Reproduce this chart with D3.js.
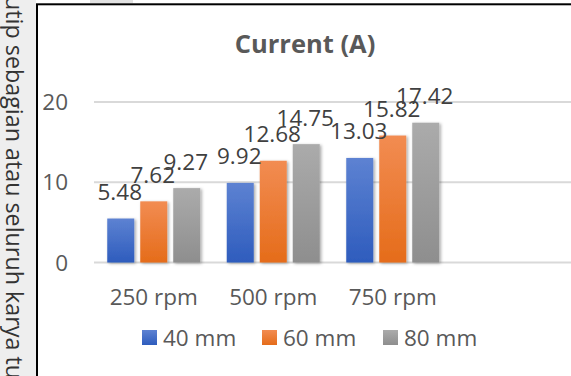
<!DOCTYPE html>
<html><head><meta charset="utf-8">
<script src="https://cdn.jsdelivr.net/npm/d3@7"></script>
<style>html,body{margin:0;padding:0;background:#fff;overflow:hidden}</style>
</head><body>
<svg id="c" width="571" height="376"></svg>
<script>
const categories = ["250 rpm", "500 rpm", "750 rpm"];
const seriesNames = ["40 mm", "60 mm", "80 mm"];
const values40 = [5.48, 9.92, 13.03];
const values60 = [7.62, 12.68, 15.82];
const values80 = [9.27, 14.75, 17.42];
const yTicks = [0, 10, 20];
const title = "Current (A)";
const sideText = "utip sebagian atau seluruh karya tu";

const seriesValues = [values40, values60, values80];
const gradients = [["#5d82d2", "#2e5cbd"], ["#f28c52", "#e56c1a"], ["#ababab", "#8e8e8e"]];

const svg = d3.select("#c");
const FONT = "'Open Sans', 'Noto Sans', sans-serif";
const defs = svg.append("defs");
gradients.forEach((g, i) => {
  const lg = defs.append("linearGradient").attr("id", "g" + i).attr("x1", 0).attr("y1", 0).attr("x2", 0).attr("y2", 1);
  lg.append("stop").attr("offset", "0%").attr("stop-color", g[0]);
  lg.append("stop").attr("offset", "100%").attr("stop-color", g[1]);
});
const f = defs.append("filter").attr("id", "sh").attr("x", "-30%").attr("y", "-10%").attr("width", "160%").attr("height", "130%");
f.append("feDropShadow").attr("dx", 1.5).attr("dy", 1).attr("stdDeviation", 1.5).attr("flood-color", "#000").attr("flood-opacity", 0.35);

// left margin strip with rotated text
svg.append("rect").attr("x", 0).attr("y", 0).attr("width", 36).attr("height", 376).attr("fill", "#eeeeee");
svg.append("rect").attr("x", 90).attr("y", 0).attr("width", 43).attr("height", 3).attr("fill", "#e2e2e2");
svg.append("text").attr("transform", "translate(6,-4) rotate(90)")
  .attr("font-family", FONT).attr("font-size", 23.3).attr("fill", "#333")
  .text(sideText);

// chart frame
svg.append("rect").attr("x", 37).attr("y", 4.3).attr("width", 600).attr("height", 400)
  .attr("fill", "#fff").attr("stroke", "#000").attr("stroke-width", 2);

const x = d3.scaleBand().domain(categories).range([94, 94 + 3 * 119.5]).paddingInner(0).paddingOuter(0);
const xs = d3.scaleBand().domain(seriesNames).range([13.25, 119.5 - 13.25]).paddingInner(6 / 33).paddingOuter(0);
const y = d3.scaleLinear().domain([0, 20]).range([262.5, 102]);

// gridlines
svg.append("g").selectAll("line").data(yTicks).join("line")
  .attr("x1", 94).attr("x2", 571).attr("y1", d => y(d)).attr("y2", d => y(d))
  .attr("stroke", "#d9d9d9").attr("stroke-width", 2);

// y axis labels
svg.append("g").selectAll("text").data(yTicks).join("text")
  .attr("x", 68).attr("y", d => y(d)).attr("dy", "0.36em").attr("text-anchor", "end")
  .attr("font-family", FONT).attr("font-size", 22.5).attr("fill", "#595959").text(d => d);

// bars
const groups = svg.append("g").selectAll("g").data(categories).join("g")
  .attr("transform", d => `translate(${x(d)},0)`);
groups.selectAll("rect").data((c, ci) => seriesNames.map((s, si) => ({ s, si, v: seriesValues[si][ci] })))
  .join("rect")
  .attr("x", d => xs(d.s)).attr("width", xs.bandwidth())
  .attr("y", d => y(d.v)).attr("height", d => y(0) - y(d.v))
  .attr("fill", d => `url(#g${d.si})`).attr("filter", "url(#sh)");
groups.selectAll("text").data((c, ci) => seriesNames.map((s, si) => ({ s, si, v: seriesValues[si][ci] })))
  .join("text")
  .attr("x", d => xs(d.s) + xs.bandwidth() / 2 - 1).attr("y", d => y(d.v) - 18.5)
  .attr("text-anchor", "middle").attr("font-family", FONT).attr("font-size", 22.5).attr("fill", "#404040")
  .text(d => d.v.toFixed(2));

// category labels
svg.append("g").selectAll("text").data(categories).join("text")
  .attr("x", d => x(d) + x.bandwidth() / 2).attr("y", 305).attr("text-anchor", "middle")
  .attr("font-family", FONT).attr("font-size", 22.5).attr("fill", "#595959").text(d => d);

// title
svg.append("text").attr("x", 305).attr("y", 53).attr("text-anchor", "middle")
  .attr("font-family", FONT).attr("font-size", 25.5).attr("font-weight", "bold").attr("fill", "#595959").text(title);

// legend
const legX = [142, 262, 383];
const leg = svg.append("g").selectAll("g").data(seriesNames).join("g")
  .attr("transform", (d, i) => `translate(${legX[i]},330)`);
leg.append("rect").attr("width", 15).attr("height", 15).attr("fill", (d, i) => `url(#g${i})`);
leg.append("text").attr("x", 21).attr("y", 15.5).attr("font-family", FONT).attr("font-size", 22.5)
  .attr("fill", "#595959").text(d => d);
</script>
</body></html>
